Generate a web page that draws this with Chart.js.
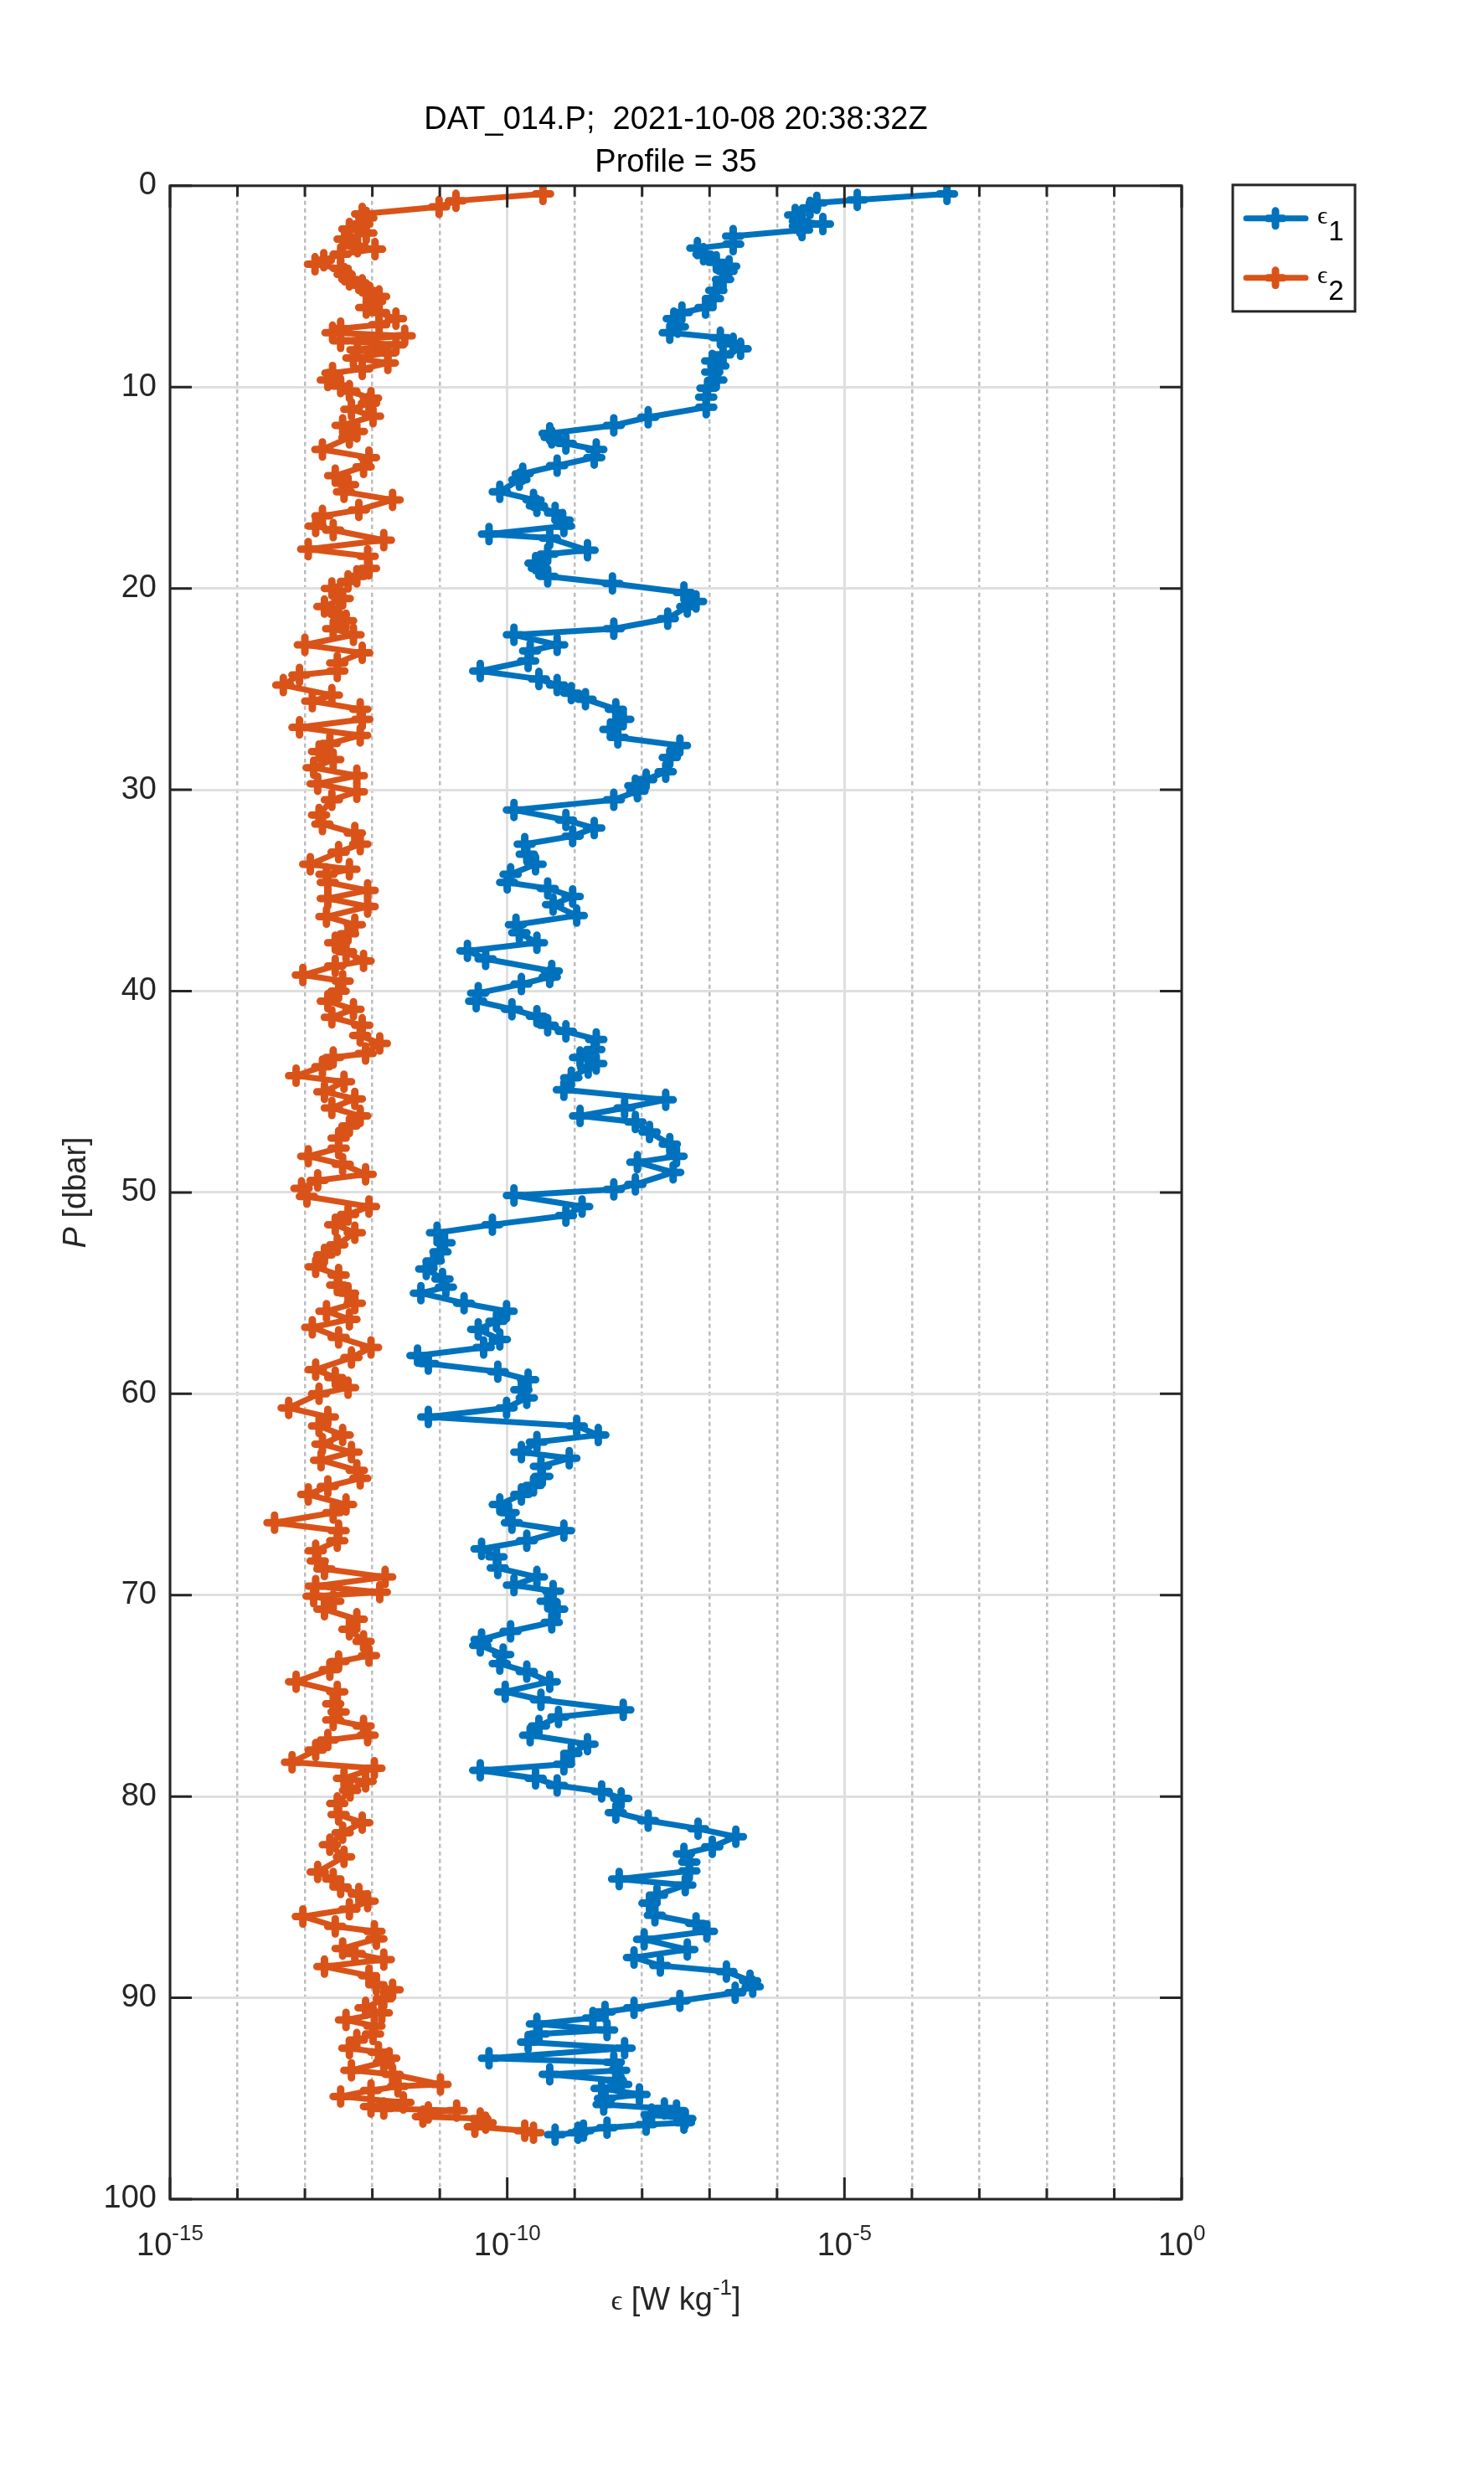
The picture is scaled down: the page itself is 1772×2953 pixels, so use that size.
<!DOCTYPE html>
<html>
<head>
<meta charset="utf-8">
<script src="https://cdn.jsdelivr.net/npm/chart.js@4.4.1/dist/chart.umd.min.js"></script>
<style>
  html, body { margin: 0; padding: 0; background: #ffffff; }
  #wrap { width: 1772px; height: 2953px; position: relative; }
  canvas { display: block; }
</style>
</head>
<body>
<div id="wrap"><canvas id="c" width="1772" height="2953"></canvas></div>
<script>
// ---------------- data ----------------
// pressure [dbar] and log10 of dissipation rate epsilon [W/kg]
const pressure1 = [
  0.4,0.7,0.85,1.1,1.45,1.75,1.9,2.0,2.2,2.5,2.9,3.1,3.4,3.8,4.0,4.25,4.65,5.2,5.6,6.05,6.3,6.6,7.0,7.3,7.55,7.85,8.1,8.4,8.7,8.95,9.25,9.65,10.05,10.5,11.0,
  11.5,11.9,12.3,12.5,12.8,13.1,13.5,13.9,14.3,14.6,15.2,15.6,15.9,16.25,16.6,16.9,17.3,17.5,18.1,18.3,18.75,19.0,19.4,19.75,
  20.2,20.65,20.9,21.5,22.0,22.3,22.8,23.1,23.6,24.1,24.5,24.8,25.2,25.5,26.0,26.5,27.0,27.4,27.8,28.4,29.1,29.5,29.8,
  30.07,30.5,31.0,31.5,31.9,32.3,32.7,33.2,33.7,34.2,34.6,34.9,35.3,35.7,36.25,36.7,37.1,37.6,38.0,38.4,39.0,39.3,39.65,40.1,
  40.5,40.9,41.25,41.7,42.0,42.4,42.9,43.3,43.6,43.8,44.3,44.9,45.4,45.8,46.2,46.5,47.0,47.6,48.2,48.5,49.0,49.6,49.85,50.15,
  50.7,51.15,51.6,52.0,52.5,52.95,53.4,53.8,54.3,54.7,55.0,55.5,55.9,56.4,56.8,57.3,57.7,58.1,58.5,58.9,59.3,59.8,
  60.2,60.7,61.15,61.6,62.05,62.4,62.9,63.2,63.6,64.1,64.55,65.0,65.5,65.9,66.4,66.8,67.3,67.7,68.1,68.65,69.1,69.5,69.8,
  70.3,70.7,71.35,71.8,72.2,72.5,72.95,73.4,73.8,74.3,74.8,75.2,75.7,76.05,76.5,76.96,77.4,77.86,78.4,78.7,79.1,79.45,79.75,80.1,
  80.8,81.2,81.6,82.0,82.5,82.85,83.26,83.7,84.1,84.4,84.9,85.3,85.9,86.3,86.7,87.1,87.6,88.0,88.4,88.7,89.15,89.45,89.75,90.15,
  90.5,90.7,91.0,91.3,91.6,91.8,92.2,92.5,93.0,93.2,93.6,93.8,94.1,94.3,94.5,94.8,95.0,95.3,95.5,95.6,95.8,96.0,96.2,96.3,96.45,96.6,96.7,96.8
];
const logEps1 = [
  -3.48,-4.81,-5.41,-5.51,-5.73,-5.66,-5.32,-5.66,-5.63,-6.65,-6.65,-7.18,-7.09,-6.9,-6.71,-6.75,-6.8,-6.9,-6.95,-7.06,-7.41,-7.53,-7.47,-7.59,-6.84,-6.65,-6.54,-6.8,-6.96,-6.87,-6.96,-6.9,-7.03,-7.05,-7.05,
  -7.91,-8.42,-9.37,-9.34,-9.13,-8.68,-8.71,-9.26,-9.77,-9.82,-10.11,-9.61,-9.56,-9.29,-9.18,-9.16,-10.27,-9.37,-8.81,-9.40,-9.58,-9.53,-9.40,-8.44,
  -7.38,-7.2,-7.33,-7.62,-8.42,-9.9,-9.26,-9.66,-9.69,-10.40,-9.53,-9.26,-9.05,-8.84,-8.39,-8.28,-8.47,-8.36,-7.44,-7.59,-7.65,-7.94,-8.1,
  -8.07,-8.42,-9.90,-9.13,-8.71,-9.03,-9.74,-9.71,-9.58,-9.95,-10.0,-9.40,-9.03,-9.32,-8.97,-9.87,-9.82,-9.56,-10.59,-10.32,-9.34,-9.37,-9.79,-10.43,
  -10.46,-9.93,-9.56,-9.40,-9.13,-8.68,-8.71,-8.92,-8.68,-8.8,-9.05,-9.16,-7.65,-8.26,-8.92,-8.10,-7.89,-7.59,-7.49,-8.07,-7.54,-8.10,-8.42,-9.90,
  -8.89,-9.13,-10.22,-11.04,-10.93,-10.99,-11.09,-11.20,-10.96,-10.91,-11.28,-10.64,-10.01,-10.16,-10.43,-10.11,-10.35,-11.33,-11.17,-10.14,-9.69,-9.79,
  -9.71,-10.01,-11.17,-8.97,-8.65,-9.56,-9.79,-9.08,-9.50,-9.48,-9.61,-9.79,-10.11,-9.98,-9.93,-9.16,-9.71,-10.38,-10.16,-10.14,-9.56,-9.90,-9.32,
  -9.40,-9.26,-9.34,-9.95,-10.38,-10.40,-10.06,-10.11,-9.71,-9.37,-10.03,-9.50,-8.28,-9.24,-9.53,-9.66,-8.81,-9.05,-9.16,-10.40,-9.58,-9.26,-8.60,-8.31,
  -8.39,-7.91,-7.17,-6.61,-6.96,-7.38,-7.30,-7.30,-8.34,-7.36,-7.78,-7.89,-7.81,-7.20,-7.04,-7.97,-7.33,-8.12,-7.73,-6.75,-6.40,-6.36,-6.62,-7.44,
  -8.12,-8.55,-8.73,-9.56,-8.52,-9.53,-9.69,-8.26,-10.27,-8.42,-8.34,-9.37,-8.39,-8.31,-8.60,-8.04,-8.55,-8.57,-7.67,-7.49,-7.86,-7.36,-7.38,-7.94,-8.52,-8.87,-8.95,-9.29
];
const pressure2 = [
  0.4,0.75,1.05,1.4,1.6,1.9,2.15,2.35,2.65,3.0,3.15,3.4,3.7,3.9,4.1,4.4,4.65,4.95,5.2,5.5,5.75,6.05,6.3,6.6,6.9,7.1,7.3,7.45,7.7,7.9,8.15,8.3,8.55,8.8,9.1,9.3,9.65,9.95,10.2,
  10.55,10.8,11.1,11.45,11.9,12.2,12.5,13.1,13.5,13.96,14.4,14.85,15.2,15.6,16.1,16.4,16.9,17.1,17.6,18.05,18.4,19.0,19.4,19.65,20.0,
  20.5,20.9,21.3,21.6,22.0,22.3,22.8,23.2,23.7,24.1,24.3,24.8,25.3,25.6,26.0,26.5,26.9,27.3,27.7,28.1,28.5,28.9,29.3,
  29.7,30.1,30.5,31.25,31.7,32.15,32.7,33.1,33.7,33.95,34.2,34.6,35.0,35.4,35.8,36.3,36.7,37.15,37.6,38.05,38.5,38.75,39.2,39.5,40.0,
  40.5,40.9,41.3,41.7,42.2,42.6,43.1,43.3,43.75,44.2,44.5,45.0,45.35,45.8,46.2,46.7,47.3,47.8,48.2,48.6,49.1,49.4,49.8,
  50.2,50.7,51.1,51.6,52.0,52.6,53.1,53.7,54.1,54.6,55.0,55.5,55.9,56.3,56.7,57.2,57.7,58.2,58.8,59.2,59.7,
  60.0,60.7,61.15,61.6,62.05,62.5,62.9,63.3,63.8,64.2,64.6,65.0,65.5,65.9,66.4,66.8,67.3,67.8,68.3,68.7,69.1,69.55,69.85,
  70.05,70.3,70.7,71.2,71.7,72.3,73.0,73.3,73.7,74.3,74.8,75.4,75.8,76.2,76.5,76.96,77.2,77.7,78.3,78.6,79.1,79.25,79.7,
  80.35,80.9,81.3,81.8,82.4,83.0,83.75,84.1,84.5,84.85,85.2,85.6,85.96,86.45,86.7,87.07,87.55,87.8,88.1,88.45,88.9,89.35,89.6,
  90.05,90.5,90.75,91.1,91.4,91.8,92.1,92.5,92.7,93.0,93.2,93.6,93.8,94.3,94.4,94.6,94.9,95.2,95.4,95.5,95.6,95.7,95.9,96.0,96.2,96.4,96.6,96.7
];
const logEps2 = [
  -9.47,-10.76,-11.01,-12.15,-12.09,-12.15,-12.34,-12.09,-12.41,-12.22,-11.96,-12.47,-12.72,-12.85,-12.47,-12.41,-12.34,-12.15,-12.09,-11.9,-11.96,-12.09,-11.9,-11.65,-11.9,-12.47,-12.59,-11.52,-12.47,-11.65,-12.22,-11.77,-12.28,-11.77,-12.15,-12.59,-12.66,-12.47,-12.34,
  -12.02,-12.05,-12.31,-11.99,-12.44,-12.23,-12.34,-12.74,-12.05,-12.13,-12.55,-12.36,-12.42,-11.70,-12.2,-12.74,-12.84,-12.58,-11.83,-12.95,-12.07,-12.05,-12.23,-12.36,-12.6,
  -12.44,-12.71,-12.5,-12.39,-12.58,-12.28,-13.0,-12.15,-12.52,-12.52,-13.08,-13.32,-12.6,-12.89,-12.18,-12.15,-13.08,-12.18,-12.63,-12.79,-12.58,-12.87,-12.23,
  -12.81,-12.23,-12.6,-12.79,-12.74,-12.26,-12.18,-12.5,-12.92,-12.34,-12.68,-12.66,-12.07,-12.66,-12.07,-12.68,-12.26,-12.36,-12.55,-12.39,-12.13,-12.55,-13.03,-12.44,-12.5,
  -12.66,-12.28,-12.6,-12.15,-12.18,-11.89,-12.1,-12.58,-12.74,-13.13,-12.42,-12.71,-12.26,-12.6,-12.18,-12.34,-12.5,-12.5,-12.95,-12.44,-12.10,-12.81,-13.05,
  -12.97,-12.05,-12.36,-12.55,-12.26,-12.52,-12.71,-12.84,-12.5,-12.52,-12.36,-12.26,-12.68,-12.34,-12.89,-12.5,-12.02,-12.31,-12.84,-12.55,-12.36,
  -12.79,-13.24,-12.66,-12.79,-12.44,-12.74,-12.31,-12.76,-12.23,-12.18,-12.66,-12.95,-12.39,-12.58,-13.45,-12.5,-12.52,-12.84,-12.81,-12.71,-11.81,-12.84,-11.89,
  -12.87,-12.58,-12.71,-12.23,-12.34,-12.13,-12.05,-12.5,-12.63,-13.13,-12.52,-12.58,-12.5,-12.58,-12.13,-12.07,-12.66,-12.84,-13.19,-11.97,-12.42,-12.10,-12.33,
  -12.52,-12.5,-12.15,-12.44,-12.63,-12.42,-12.81,-12.58,-12.47,-12.20,-12.07,-12.34,-13.03,-12.55,-11.97,-11.94,-12.44,-12.26,-11.83,-12.71,-12.05,-11.94,-11.70,
  -11.83,-12.1,-11.86,-12.39,-11.97,-11.99,-12.23,-12.34,-11.91,-11.75,-11.83,-12.31,-11.70,-10.99,-11.62,-12.02,-12.47,-11.54,-12.02,-11.83,-10.75,-11.17,-11.25,-10.4,-10.32,-10.48,-9.74,-9.61
];
const seriesLabels = ['\u03F5', '\u03F5'];
const seriesSubscripts = ['1', '2'];
const yTicks = [0, 10, 20, 30, 40, 50, 60, 70, 80, 90, 100];
const xTickExponents = [-15, -10, -5, 0];
const xDecadeExponents = [-15,-14,-13,-12,-11,-10,-9,-8,-7,-6,-5,-4,-3,-2,-1,0];
const titleLines = ['DAT_014.P;  2021-10-08 20:38:32Z', 'Profile = 35'];

// ---------------- styles ----------------
const BLUE = '#0072BD';
const ORANGE = '#D95319';
const AXIS = '#262626';
const SANS = "'Liberation Sans', Arial, Helvetica, sans-serif";
const SERIF = "'Liberation Serif', 'DejaVu Serif', serif";
const FS = 38;
const LINE_W = 7;
const MARK_R = 9;
const MARK_W = 9;

function toPoints(ps, ls) {
  return ps.map((p, i) => ({ x: Math.pow(10, ls[i]), y: p }));
}
function isMajorValue(v) {
  const e = Math.round(Math.log10(v));
  return xTickExponents.includes(e);
}

const decor = {
  id: 'decor',
  beforeDatasetsDraw(chart) {
    chart.ctx.save();
    chart.ctx.lineCap = 'round';
    chart.ctx.lineJoin = 'round';
  },
  afterDatasetsDraw(chart) {
    chart.ctx.restore();
    const { ctx, chartArea: a, scales: { x, y } } = chart;
    ctx.save();
    ctx.strokeStyle = AXIS;
    ctx.lineWidth = 3;
    ctx.lineCap = 'butt';
    ctx.beginPath();
    xDecadeExponents.forEach(e => {
      const px = x.getPixelForValue(Math.pow(10, e));
      const len = xTickExponents.includes(e) ? 26 : 13;
      ctx.moveTo(px, a.bottom); ctx.lineTo(px, a.bottom - len);
      ctx.moveTo(px, a.top); ctx.lineTo(px, a.top + len);
    });
    yTicks.forEach(v => {
      const py = y.getPixelForValue(v);
      ctx.moveTo(a.left, py); ctx.lineTo(a.left + 26, py);
      ctx.moveTo(a.right, py); ctx.lineTo(a.right - 26, py);
    });
    ctx.stroke();
    ctx.strokeRect(a.left, a.top, a.right - a.left, a.bottom - a.top);
    ctx.restore();
  },
  afterDraw(chart) {
    const { ctx, chartArea: a, scales: { x } } = chart;
    ctx.save();
    ctx.fillStyle = AXIS;
    ctx.textBaseline = 'alphabetic';
    ctx.textAlign = 'left';
    // x tick labels 10^e
    xTickExponents.forEach(e => {
      const px = x.getPixelForValue(Math.pow(10, e));
      ctx.font = FS + 'px ' + SANS;
      const base = '10';
      const w1 = ctx.measureText(base).width;
      ctx.font = '26px ' + SANS;
      const ex = String(e);
      const w2 = ctx.measureText(ex).width;
      const x0 = px - (w1 + w2) / 2;
      ctx.font = FS + 'px ' + SANS;
      ctx.fillText(base, x0, a.bottom + 67);
      ctx.font = '26px ' + SANS;
      ctx.fillText(ex, x0 + w1, a.bottom + 49);
    });
    // x axis title: ϵ [W kg^-1]
    {
      const cx = (a.left + a.right) / 2;
      const by = a.bottom + 132;
      const parts = [
        { t: '\u03F5', f: '34px ' + SERIF, dy: 0 },
        { t: ' [W kg', f: FS + 'px ' + SANS, dy: 0 },
        { t: '-1', f: '26px ' + SANS, dy: -18 },
        { t: ']', f: FS + 'px ' + SANS, dy: 0 }
      ];
      let total = 0;
      parts.forEach(p => { ctx.font = p.f; p.w = ctx.measureText(p.t).width; total += p.w; });
      let xx = cx - total / 2;
      parts.forEach(p => { ctx.font = p.f; ctx.fillText(p.t, xx, by + p.dy); xx += p.w; });
    }
    // y axis title: P [dbar] (rotated)
    {
      const cy = (a.top + a.bottom) / 2;
      ctx.translate(a.left - 101, cy);
      ctx.rotate(-Math.PI / 2);
      const parts = [
        { t: 'P', f: 'italic ' + FS + 'px ' + SANS },
        { t: ' [dbar]', f: FS + 'px ' + SANS }
      ];
      let total = 0;
      parts.forEach(p => { ctx.font = p.f; p.w = ctx.measureText(p.t).width; total += p.w; });
      let xx = -total / 2;
      parts.forEach(p => { ctx.font = p.f; ctx.fillText(p.t, xx, 0); xx += p.w; });
    }
    ctx.restore();

    // legend
    ctx.save();
    const L = a.right + 61, T = a.top - 1, W = 146, H = 151;
    ctx.fillStyle = '#ffffff';
    ctx.fillRect(L, T, W, H);
    ctx.strokeStyle = AXIS;
    ctx.lineWidth = 3;
    ctx.strokeRect(L, T, W, H);
    chart.data.datasets.forEach((ds, i) => {
      const yc = T + 40 + i * 71;
      ctx.strokeStyle = ds.borderColor;
      ctx.lineWidth = LINE_W;
      ctx.lineCap = 'round';
      ctx.beginPath();
      ctx.moveTo(L + 16, yc); ctx.lineTo(L + 87, yc);
      ctx.stroke();
      const mx = L + 51;
      ctx.lineWidth = MARK_W;
      ctx.beginPath();
      ctx.moveTo(mx - MARK_R, yc); ctx.lineTo(mx + MARK_R, yc);
      ctx.moveTo(mx, yc - MARK_R); ctx.lineTo(mx, yc + MARK_R);
      ctx.stroke();
      ctx.fillStyle = '#000000';
      ctx.textAlign = 'left';
      ctx.textBaseline = 'alphabetic';
      ctx.font = '30px ' + SERIF;
      ctx.fillText(seriesLabels[i], L + 101, yc + 6);
      const we = ctx.measureText(seriesLabels[i]).width;
      ctx.font = '33px ' + SANS;
      ctx.fillText(seriesSubscripts[i], L + 101 + we + 1, yc + 26);
    });
    ctx.restore();
  }
};

function makeDataset(label, pts, color) {
  return {
    label: label,
    data: pts,
    showLine: true,
    borderColor: color,
    backgroundColor: color,
    borderWidth: LINE_W,
    borderCapStyle: 'round',
    borderJoinStyle: 'round',
    pointStyle: 'cross',
    pointRadius: MARK_R,
    pointHoverRadius: MARK_R,
    pointBorderWidth: MARK_W,
    pointBorderColor: color,
    tension: 0
  };
}

const chart = new Chart(document.getElementById('c'), {
  type: 'scatter',
  data: {
    datasets: [
      makeDataset('\u03F5\u2081', toPoints(pressure1, logEps1), BLUE),
      makeDataset('\u03F5\u2082', toPoints(pressure2, logEps2), ORANGE)
    ]
  },
  options: {
    responsive: false,
    animation: false,
    devicePixelRatio: 1,
    events: [],
    layout: { padding: { left: 0, right: 361, top: 0, bottom: 0 } },
    plugins: {
      legend: { display: false },
      tooltip: { enabled: false },
      title: {
        display: true,
        text: titleLines,
        fullSize: false,
        color: '#000000',
        font: { family: SANS, size: FS, weight: 'normal', lineHeight: 1.34 },
        padding: { top: 118, bottom: 2 }
      }
    },
    scales: {
      x: {
        type: 'logarithmic',
        position: 'bottom',
        min: 1e-15,
        max: 1,
        afterBuildTicks: s => { s.ticks = xDecadeExponents.map(e => ({ value: Math.pow(10, e) })); },
        ticks: { display: false },
        grid: {
          drawTicks: false,
          color: c => isMajorValue(c.tick.value) ? '#dfdfdf' : '#bdbdbd',
          lineWidth: c => isMajorValue(c.tick.value) ? 3 : 2.5
        },
        border: { display: false, dash: c => (c.tick && !isMajorValue(c.tick.value)) ? [5, 4] : [] },
        afterFit: s => { s.height = 327; }
      },
      y: {
        type: 'linear',
        position: 'left',
        reverse: true,
        min: 0,
        max: 100,
        afterBuildTicks: s => { s.ticks = yTicks.map(v => ({ value: v })); },
        ticks: { color: AXIS, font: { family: SANS, size: FS }, padding: 16 },
        grid: { drawTicks: false, color: '#dfdfdf', lineWidth: 3 },
        border: { display: false },
        afterFit: s => { s.width = 203; }
      }
    }
  },
  plugins: [decor]
});
</script>
</body>
</html>
